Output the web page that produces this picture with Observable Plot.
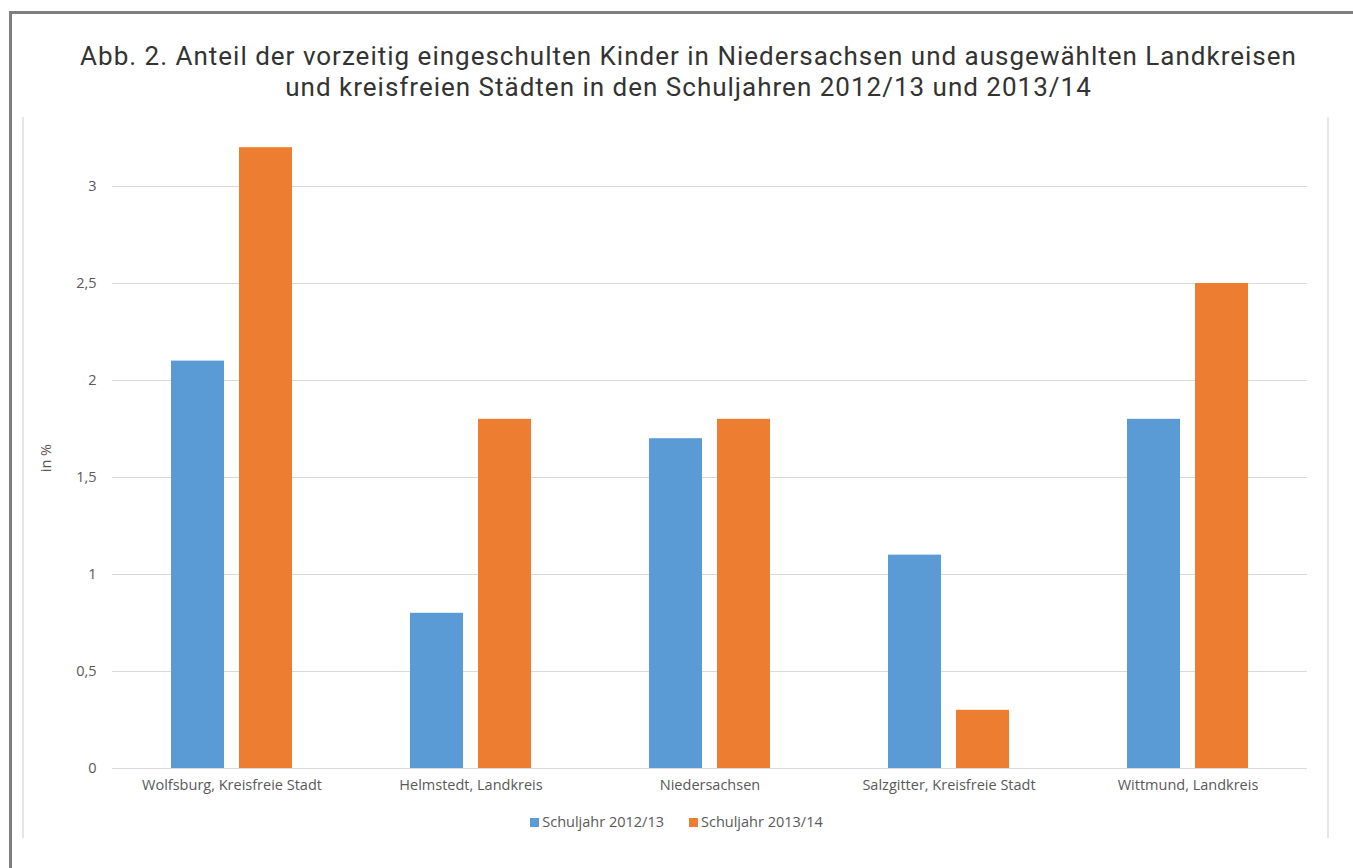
<!DOCTYPE html>
<html><head><meta charset="utf-8">
<script src="https://cdn.jsdelivr.net/npm/d3@7"></script>
<script src="https://cdn.jsdelivr.net/npm/@observablehq/plot@0.6"></script>
<style>
body{margin:0;background:#fff;font-family:"Open Sans",sans-serif;}
#wrap{position:relative;width:1353px;height:868px;overflow:hidden;}
#frame{position:absolute;left:9px;top:11px;width:1400px;height:900px;border:3px solid #7f7f7f;box-sizing:border-box;}
.vline{position:absolute;top:117px;height:721px;width:2px;background:#e6e6e6;}
.tline{position:absolute;left:12px;width:1353px;text-align:center;font-family:Roboto,sans-serif;font-size:26px;line-height:31px;height:31px;color:#333;white-space:nowrap;letter-spacing:1px;}
#chart{position:absolute;left:0;top:100px;}
#legend{position:absolute;left:0;width:1353px;top:812px;display:flex;justify-content:center;gap:25px;font-size:14.5px;color:#595959;}
#legend span.sw{display:inline-block;width:9px;height:9px;margin-right:3px;vertical-align:0px;}
</style></head>
<body><div id="wrap">
<div id="frame"></div>
<div class="vline" style="left:22px"></div>
<div class="vline" style="left:1327px"></div>
<div class="tline" style="top:41px">Abb. 2. Anteil der vorzeitig eingeschulten Kinder in Niedersachsen und ausgewählten Landkreisen</div>
<div class="tline" style="top:72px">und kreisfreien Städten in den Schuljahren 2012/13 und 2013/14</div>
<div id="chart"></div>
<div id="legend"></div>
</div>
<script>
const categories = ["Wolfsburg, Kreisfreie Stadt","Helmstedt, Landkreis","Niedersachsen","Salzgitter, Kreisfreie Stadt","Wittmund, Landkreis"];
const series = ["Schuljahr 2012/13","Schuljahr 2013/14"];
const values2012 = [2.1, 0.8, 1.7, 1.1, 1.8];
const values2013 = [3.2, 1.8, 1.8, 0.3, 2.5];
const colors = ["#5B9BD5","#ED7D31"];
const yTicks = [0,0.5,1,1.5,2,2.5,3];

const data = [];
categories.forEach((c,i)=>{
  data.push({cat:c, s:series[0], v:values2012[i]});
  data.push({cat:c, s:series[1], v:values2013[i]});
});
const fmt = d => String(d).replace(".", ",");

const chart = Plot.plot({
  width:1353, height:700,
  marginLeft:110, marginRight:45, marginTop:47.2, marginBottom:32,
  style:{fontFamily:"Open Sans, sans-serif", fontSize:"14.5px", color:"#595959", overflow:"visible"},
  fx:{domain:categories, padding:0, label:null},
  x:{domain:series, paddingInner:0.217, paddingOuter:0.848, axis:null},
  y:{domain:[0,3.2], ticks:yTicks},
  color:{domain:series, range:colors},
  marks:[
    Plot.gridY(yTicks,{stroke:"#d9d9d9", strokeOpacity:1, strokeWidth:1}),
    Plot.barY(data,{fx:"cat", x:"s", y:"v", fill:"s"}),
    Plot.axisFx({anchor:"bottom", tickSize:0, tickPadding:11, label:null, fill:"#595959"}),
    Plot.axisY(yTicks,{tickSize:0, tickPadding:16, tickFormat:fmt, label:"in %", labelAnchor:"center", labelArrow:"none", labelOffset:72, fill:"#595959"})
  ]
});
document.getElementById("chart").appendChild(chart);

const lg = document.getElementById("legend");
series.forEach((s,i)=>{
  const d = document.createElement("div");
  d.innerHTML = `<span class="sw" style="background:${colors[i]}"></span>${s}`;
  lg.appendChild(d);
});
</script>
</body></html>
